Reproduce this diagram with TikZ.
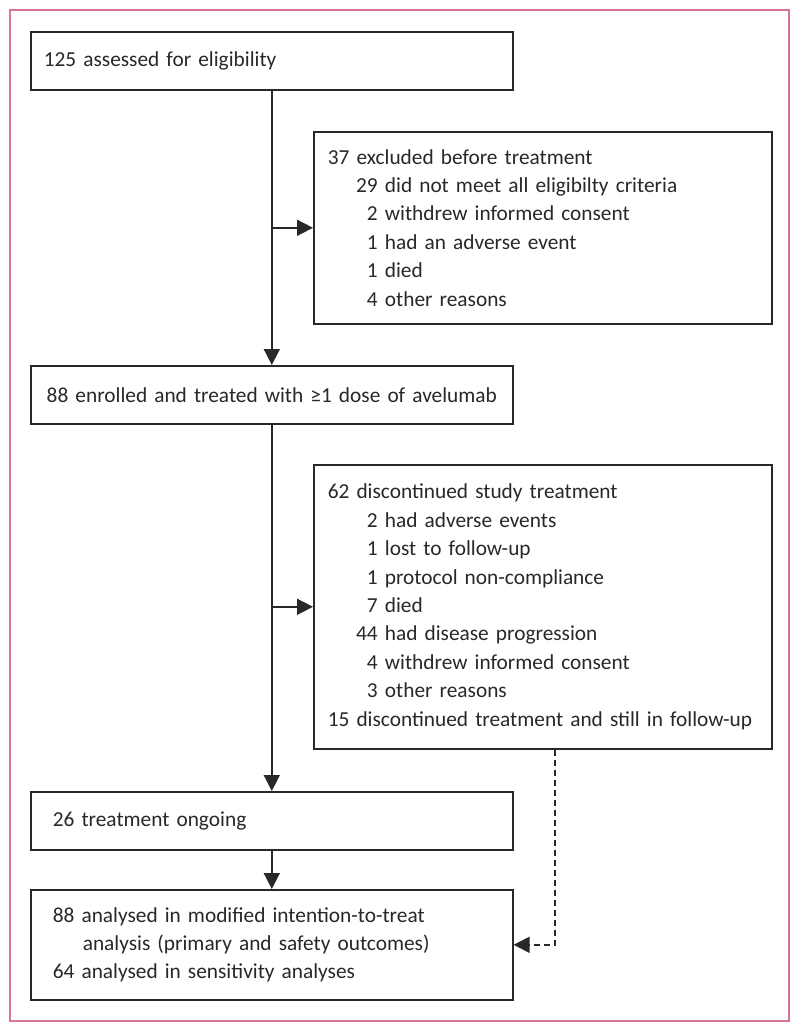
\documentclass[tikz,border=0pt]{standalone}
\usepackage{fontspec}
\setmainfont{Carlito}[WordSpace={0.84,0.4,0.2}]
\usepackage{tikz}
\usetikzlibrary{arrows.meta}
\definecolor{frame}{RGB}{215,115,155}
\definecolor{ink}{RGB}{40,40,40}
\newcommand{\indn}[1]{\makebox[37.5pt][r]{#1}}

\begin{document}
\begin{tikzpicture}[x=0.75pt,y=-0.75pt,color=ink,line width=1.2pt,
	>={Triangle[length=12pt,width=12pt]},
	every node/.style={font=\fontsize{16}{21.3}\selectfont},
	lbox/.style={draw,anchor=north west,minimum width=361.5pt,text width=328.5pt,inner xsep=16.5pt,inner ysep=0pt,minimum height=43.5pt,align=left},
	rbox/.style={draw,anchor=north west,minimum width=343.5pt,text width=322.5pt,inner xsep=10.5pt,inner ysep=0pt,align=left}]
	\useasboundingbox (0,0) rectangle (800,1031);
	\draw[frame,line width=1.1pt] (10,10) rectangle (789,1021);
	\node[lbox] (A) at (30,31) [text width=342pt,inner xsep=9.75pt] {125 assessed for eligibility};
	\node[rbox] (B) at (313,131) [minimum height=144pt] {37 excluded before treatment \\ \indn{29} did not meet all eligibilty criteria \\ \indn{2} withdrew informed consent \\ \indn{1} had an adverse event \\ \indn{1} died \\ \indn{4} other reasons};
	\node[lbox] (C) at (30,365) [text width=349.5pt,inner xsep=6pt,align=center] {88 enrolled and treated with ≥1 dose of avelumab};
	\node[rbox] (D) at (313,464) [minimum height=213pt] {62 discontinued study treatment \\ \indn{2} had adverse events \\ \indn{1} lost to follow-up \\ \indn{1} protocol non-compliance \\ \indn{7} died \\ \indn{44} had disease progression \\ \indn{4} withdrew informed consent \\ \indn{3} other reasons \\ 15 discontinued treatment and still in follow-up};
	\node[lbox] (E) at (30,791) {26 treatment ongoing};
	\node[lbox] (F) at (30,889) [minimum height=82.5pt] {88 analysed in modified intention-to-treat \\ \hspace*{22.5pt}analysis (primary and safety outcomes) \\ 64 analysed in sensitivity analyses};
	\path[->]
	(A) edge (C)
	(C) edge (E)
	(E) edge (F)
	(A.south |- B.west) edge (B.west)
	(C.south |- D.west) edge (D.west);
	\draw[->,dash pattern=on 4.5pt off 3pt] ([xshift=9pt]D.south) |- (F.east);
\end{tikzpicture}
\end{document}
